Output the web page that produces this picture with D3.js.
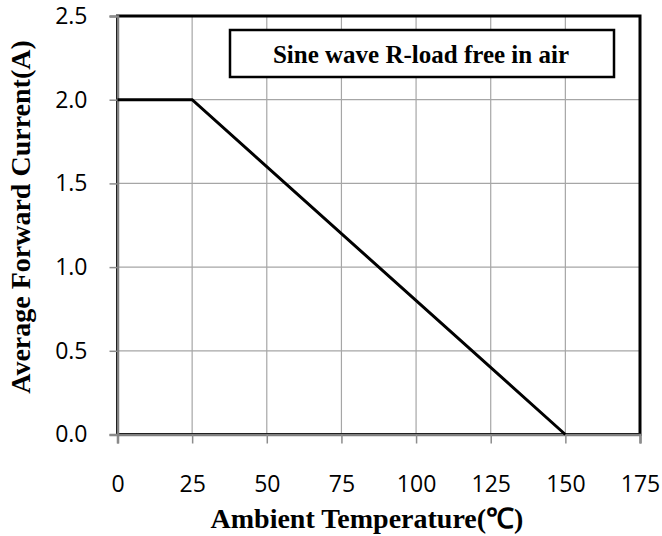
<!DOCTYPE html>
<html><head><meta charset="utf-8">
<script src="https://cdn.jsdelivr.net/npm/d3@7"></script>
<style>body{margin:0;background:#fff}</style>
</head><body>
<svg id="c" width="662" height="536"></svg>
<script>
const temps = [0, 25, 150];
const currents = [2.0, 2.0, 0.0];
const xTicks = [0, 25, 50, 75, 100, 125, 150, 175];
const yTicks = [0, 0.5, 1.0, 1.5, 2.0, 2.5];
const legendText = "Sine wave R-load free in air";
const xTitle = "Ambient Temperature(℃)";
const yTitle = "Average Forward Current(A)";

const svg = d3.select("#c");
const L = 117.5, R = 640, T = 16, B = 434.5;
const x = d3.scaleLinear().domain([0, 175]).range([L, R]);
const y = d3.scaleLinear().domain([0, 2.5]).range([B, T]);

// gridlines
svg.append("g").selectAll("line").data(xTicks.slice(1, -1)).join("line")
  .attr("x1", d => x(d)).attr("x2", d => x(d)).attr("y1", T).attr("y2", B)
  .attr("stroke", "#a6a6a6").attr("stroke-width", 1.2);
svg.append("g").selectAll("line").data(yTicks.slice(1, -1)).join("line")
  .attr("y1", d => y(d)).attr("y2", d => y(d)).attr("x1", L).attr("x2", R)
  .attr("stroke", "#a6a6a6").attr("stroke-width", 1.2);

// plot border
svg.append("rect").attr("x", L).attr("y", T).attr("width", R - L).attr("height", B - T)
  .attr("fill", "none").attr("stroke", "#000").attr("stroke-width", 3);

// axes
const xAxis = svg.append("g").attr("transform", `translate(0,${B})`)
  .call(d3.axisBottom(x).tickValues(xTicks).tickSize(9).tickPadding(33).tickFormat(d3.format("d")));
const yAxis = svg.append("g").attr("transform", `translate(${L},0)`)
  .call(d3.axisLeft(y).tickValues(yTicks).tickSize(8).tickPadding(22).tickFormat(d3.format(".1f")));
[xAxis, yAxis].forEach(a => {
  a.select(".domain").attr("stroke", "#7f7f7f").attr("stroke-width", 2.5);
  a.selectAll(".tick line").attr("stroke", "#8c8c8c").attr("stroke-width", 1.5);
  a.selectAll(".tick text").attr("fill", "#000")
    .style("font-family", "'Open Sans', 'Noto Sans', sans-serif").style("font-size", "23px");
});
xAxis.selectAll(".tick text").attr("dy", "0.68em");

// line
const line = d3.line().x((d, i) => x(temps[i])).y(d => y(d));
svg.append("path").datum(currents).attr("d", line)
  .attr("fill", "none").attr("stroke", "#000").attr("stroke-width", 3);

// legend
svg.append("rect").attr("x", 230).attr("y", 30).attr("width", 384).attr("height", 47)
  .attr("fill", "#fff").attr("stroke", "#000").attr("stroke-width", 2.5);
svg.append("text").attr("x", 421).attr("y", 63).attr("text-anchor", "middle")
  .style("font-family", "'Liberation Serif', 'Times New Roman', serif").style("font-weight", "bold")
  .style("font-size", "25px").text(legendText);

// titles
svg.append("text").attr("x", 367).attr("y", 528).attr("text-anchor", "middle")
  .style("font-family", "'Liberation Serif', 'Times New Roman', serif").style("font-weight", "bold")
  .style("font-size", "28px").text(xTitle);
svg.append("text").attr("transform", "translate(30,217) rotate(-90)").attr("text-anchor", "middle")
  .style("font-family", "'Liberation Serif', 'Times New Roman', serif").style("font-weight", "bold")
  .style("font-size", "28px").text(yTitle);
</script>
</body></html>
